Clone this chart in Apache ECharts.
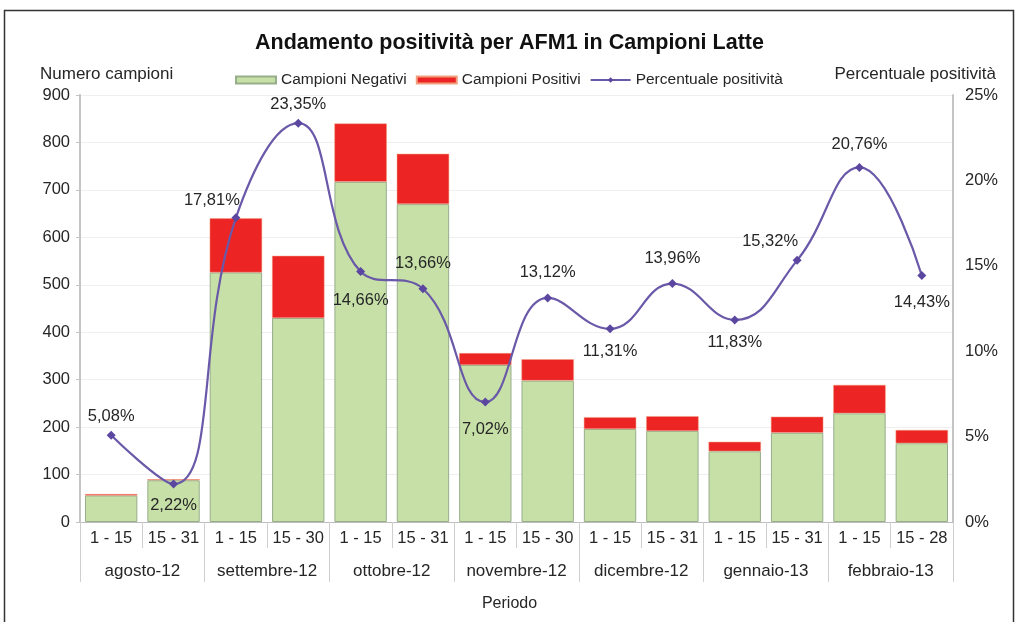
<!DOCTYPE html>
<html>
<head>
<meta charset="utf-8">
<script src="https://cdn.jsdelivr.net/npm/echarts@6/dist/echarts.min.js"></script>
<style>
html,body{margin:0;padding:0;background:#fff;}
#chart{width:1019px;height:622px;}
</style>
</head>
<body>
<div id="chart"></div>
<script>
// ---- data ----
const periods = ['1 - 15','15 - 31','1 - 15','15 - 30','1 - 15','15 - 31','1 - 15','15 - 30','1 - 15','15 - 31','1 - 15','15 - 31','1 - 15','15 - 28'];
const months = ['agosto-12','settembre-12','ottobre-12','novembre-12','dicembre-12','gennaio-13','febbraio-13'];
const negativi = [56, 88, 526, 430, 717, 670, 331, 298, 196, 192, 149, 188, 229, 166];
const positivi = [3, 2, 114, 131, 123, 106, 25, 45, 25, 31, 20, 34, 60, 28];
const percentuale = [5.08, 2.22, 17.81, 23.35, 14.66, 13.66, 7.02, 13.12, 11.31, 13.96, 11.83, 15.32, 20.76, 14.43];
const leftTicks = [0, 900, 100];
const rightTicks = [0, 25, 5];
// label placement for line points
const labelPos = ['top','bottom','top','top','bottom','top','bottom','top','bottom','top','bottom','top','top','bottom'];
const labelOff = [[0,0],[0,2],[-24,2],[0,0],[0,10],[0,-6],[0,8],[0,-6],[0,4],[0,-6],[0,4],[-27,0],[0,-4],[0,8]];

const FONT = 'Liberation Sans, Arial, Helvetica, sans-serif';
const TXT = '#262626';

const lineData = percentuale.map((v, i) => ({
  value: v,
  label: { position: labelPos[i], offset: labelOff[i] }
}));

const chart = echarts.init(document.getElementById('chart'), null, {renderer: 'canvas'});
chart.setOption({
  backgroundColor: '#ffffff',
  animation: false,
  textStyle: { fontFamily: FONT, color: TXT },
  title: {
    text: 'Andamento positività per AFM1 in Campioni Latte',
    left: 'center', top: 27,
    textStyle: { fontSize: 21.5, fontWeight: 'bold', color: '#111', fontFamily: FONT }
  },
  legend: {
    top: 67, left: 230,
    itemGap: 9, itemWidth: 40, itemHeight: 7,
    textStyle: { fontSize: 15.5, color: TXT, fontFamily: FONT },
    data: [
      { name: 'Campioni Negativi', icon: 'rect' },
      { name: 'Campioni Positivi', icon: 'rect' },
      { name: 'Percentuale positività' }
    ]
  },
  grid: { left: 80, right: 66, top: 95, bottom: 100, containLabel: false },
  xAxis: [
    {
      type: 'category', data: periods, position: 'bottom',
      axisLine: { show: true, lineStyle: { color: '#bdbdbd' } },
      axisTick: { show: true, interval: 0, length: 26, lineStyle: { color: '#cfcfcf' } },
      axisLabel: { interval: 0, fontSize: 16.5, color: TXT, margin: 8, fontFamily: FONT }
    },
    {
      type: 'category', data: months, position: 'bottom', offset: 0,
      axisLine: { show: false },
      axisTick: { show: true, interval: 0, length: 60, lineStyle: { color: '#cfcfcf' } },
      axisLabel: { interval: 0, fontSize: 17, color: TXT, margin: 41, fontFamily: FONT }
    }
  ],
  yAxis: [
    {
      type: 'value', min: leftTicks[0], max: leftTicks[1], interval: leftTicks[2],
      axisLine: { show: true, lineStyle: { color: '#c4c4c4', width: 2 } },
      axisTick: { show: true, length: 4, lineStyle: { color: '#c4c4c4' } },
      axisLabel: { fontSize: 16.5, color: TXT, margin: 10, fontFamily: FONT },
      splitLine: { show: true, lineStyle: { color: '#efefef' } }
    },
    {
      type: 'value', min: rightTicks[0], max: rightTicks[1], interval: rightTicks[2],
      position: 'right',
      axisLine: { show: true, lineStyle: { color: '#c4c4c4', width: 2 } },
      axisTick: { show: false },
      axisLabel: { fontSize: 16.5, color: TXT, margin: 12, formatter: '{value}%', fontFamily: FONT },
      splitLine: { show: false }
    }
  ],
  series: [
    {
      name: 'Campioni Negativi', type: 'bar', stack: 'tot', xAxisIndex: 0, yAxisIndex: 0,
      data: negativi, barCategoryGap: '16%',
      itemStyle: { color: '#c6e0a7', borderColor: '#98ad8c', borderWidth: 1 }
    },
    {
      name: 'Campioni Positivi', type: 'bar', stack: 'tot', xAxisIndex: 0, yAxisIndex: 0,
      data: positivi,
      itemStyle: { color: '#ec2424', borderColor: '#f0a080', borderWidth: 0.5 }
    },
    {
      name: 'Percentuale positività', type: 'line', xAxisIndex: 0, yAxisIndex: 1,
      data: lineData, smooth: 0.45,
      symbol: 'diamond', symbolSize: 9,
      lineStyle: { color: '#6a58a8', width: 2.2 },
      itemStyle: { color: '#5b46a0' },
      label: {
        show: true, fontSize: 16.5, color: TXT, distance: 6, fontFamily: FONT,
        formatter: p => p.value.toFixed(2).replace('.', ',') + '%'
      },
      z: 5
    }
  ],
  graphic: [
    { type: 'rect', shape: { x: 4.5, y: 10.5, width: 1009, height: 640 }, style: { fill: 'none', stroke: '#333', lineWidth: 1.5 }, silent: true },
    { type: 'text', left: 40, top: 66, style: { text: 'Numero campioni', font: '17px ' + FONT, fill: TXT } },
    { type: 'text', right: 23, top: 66, style: { text: 'Percentuale positività', font: '17px ' + FONT, fill: TXT } },
    { type: 'text', left: 'center', top: 596, style: { text: 'Periodo', font: '16px ' + FONT, fill: TXT } }
  ]
});
</script>
</body>
</html>
